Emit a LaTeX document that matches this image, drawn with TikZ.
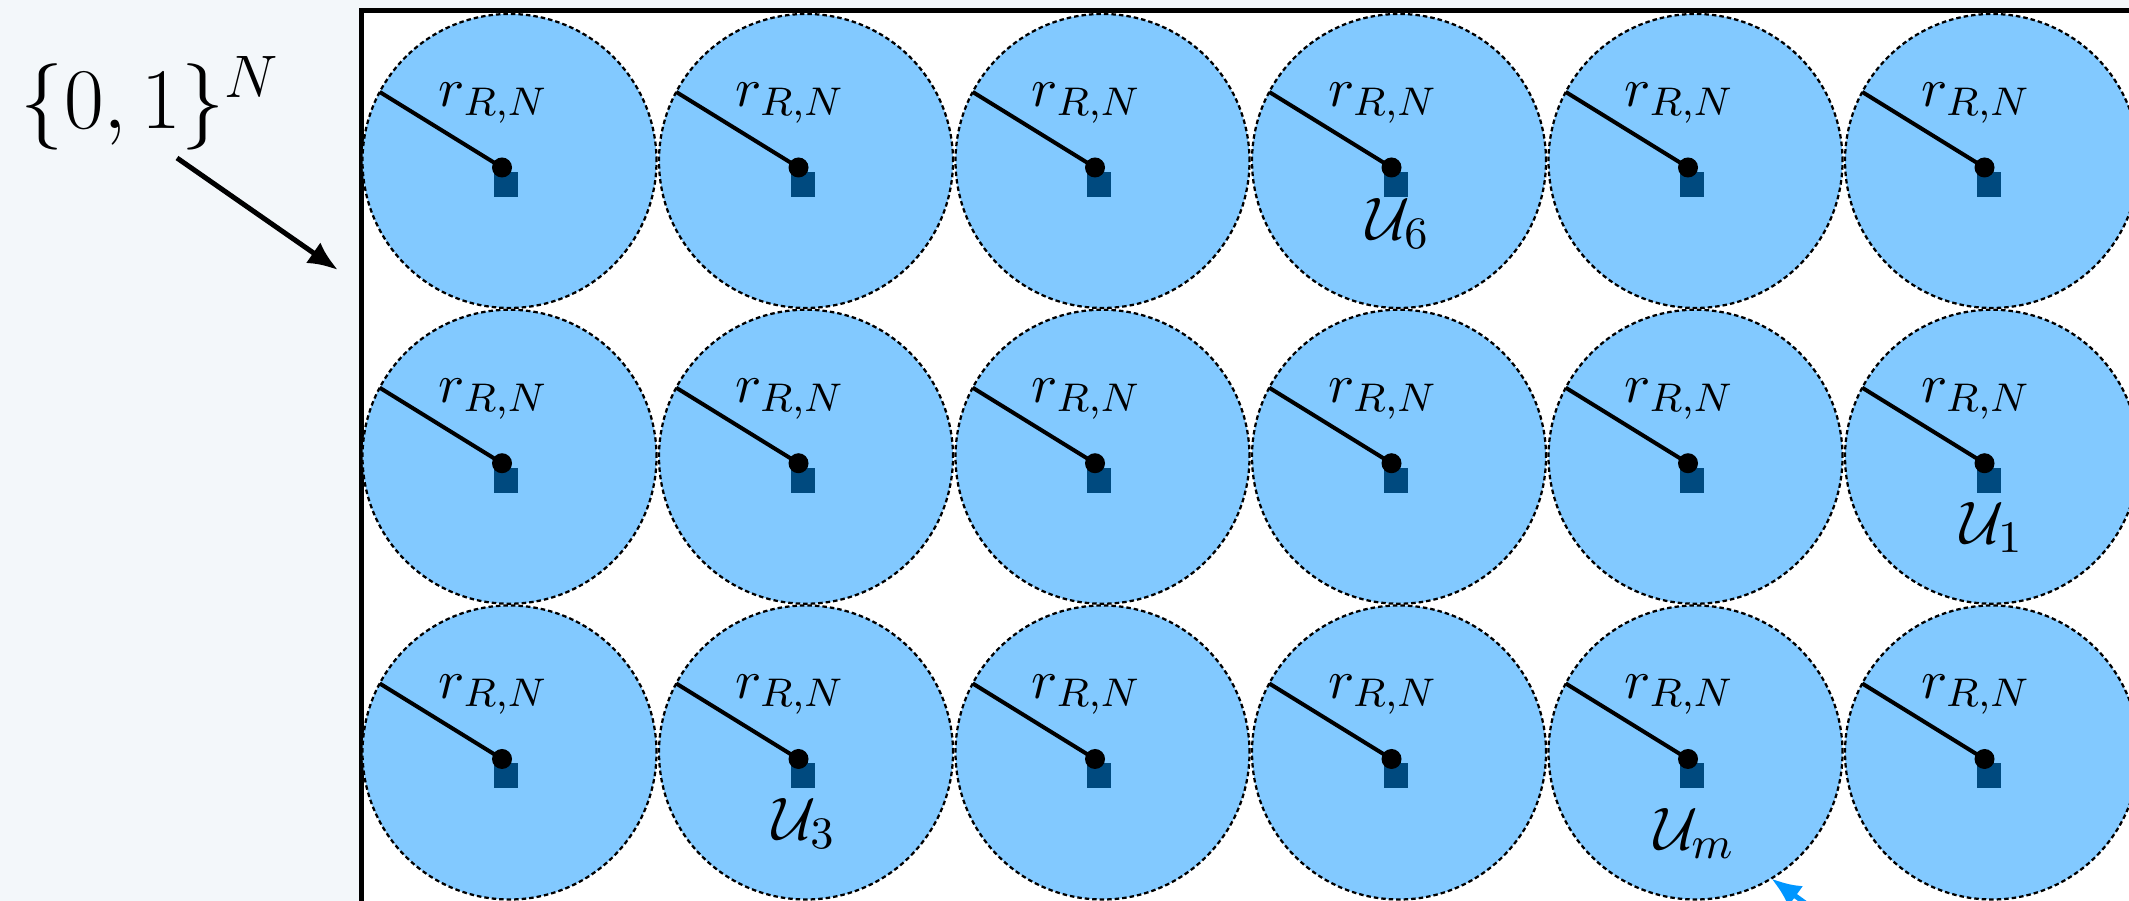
\documentclass[tikz,border=0pt]{standalone}
\usetikzlibrary{arrows.meta,calc}
\definecolor{bgcol}{RGB}{243,247,250}
\definecolor{cellfill}{RGB}{130,201,255}
\definecolor{sqcol}{RGB}{0,74,127}
\definecolor{arrblue}{RGB}{0,150,255}
\begin{document}
\begin{tikzpicture}[x=0.2pt,y=-0.2pt,
  cell/.style={circle,draw=black,fill=cellfill,line width=0.45pt,
    dash pattern=on 0.9pt off 0.6pt,minimum size=58.8pt,inner sep=0pt,outer sep=0pt},
  sqmark/.style={fill=sqcol},
  radline/.style={line width=0.8pt,black},
  rlabel/.style={anchor=base,inner sep=0pt,font=\fontsize{11.3}{13}\selectfont},
  ulabel/.style={anchor=base,inner sep=0pt,font=\fontsize{13}{15}\selectfont},
  setlabel/.style={anchor=base west,inner sep=0pt,font=\fontsize{16.5}{19}\selectfont},
  blackarrow/.style={line width=1pt,-{Latex[length=6pt,width=5pt]}},
  bluearrow/.style={line width=1pt,draw=arrblue,-{Latex[length=6pt,width=5pt]}},
  domainbox/.style={line width=1pt,draw=black,fill=white}
]
\clip (0,0) rectangle (2129,901);
\fill[bgcol] (0,0) rectangle (2129,901);
% domain box (extends beyond the picture)
\draw[domainbox] (2300,1000) -- (361.7,1000) -- (361.7,10.8) -- (2300,10.8);
% label and arrow
\node[setlabel] (set) at (20,129) {$\{0,1\}^N$};
\coordinate (arrS) at (177,158);
\coordinate (arrE) at (338,270);
\draw[blackarrow] (arrS) -- (arrE);
% cells
\foreach \i in {0,...,5}{
  \foreach \j in {0,1,2}{
    \pgfmathsetmacro\cx{509.5+296.5*\i}
    \pgfmathsetmacro\cy{161+295.75*\j}
    \node[cell] (c\i\j) at (\cx,\cy) {};
    \fill[sqmark] (\cx-15.5,\cy+11) rectangle (\cx+8.5,\cy+36);
    \coordinate (d\i\j) at (\cx-7.5,\cy+6.5);
    \draw[radline] (d\i\j) -- (c\i\j.152.3);
    \fill[black] (d\i\j) circle (2pt);
    \node[rlabel] (r\i\j) at (\cx-16,\cy-54) {$r_{R,N}$};
  }
}
% set labels
\node[ulabel] (u6) at (1398.5,240) {$\mathcal{U}_6$};
\node[ulabel] (u1) at (1992,544) {$\mathcal{U}_1$};
\node[ulabel] (u3) at (804.5,840) {$\mathcal{U}_3$};
\node[ulabel] (um) at (1694.5,850) {$\mathcal{U}_m$};
% blue arrow
\coordinate (bS) at (1834,924);
\draw[bluearrow] (bS) -- (c42.-59.5);
\end{tikzpicture}
\end{document}
